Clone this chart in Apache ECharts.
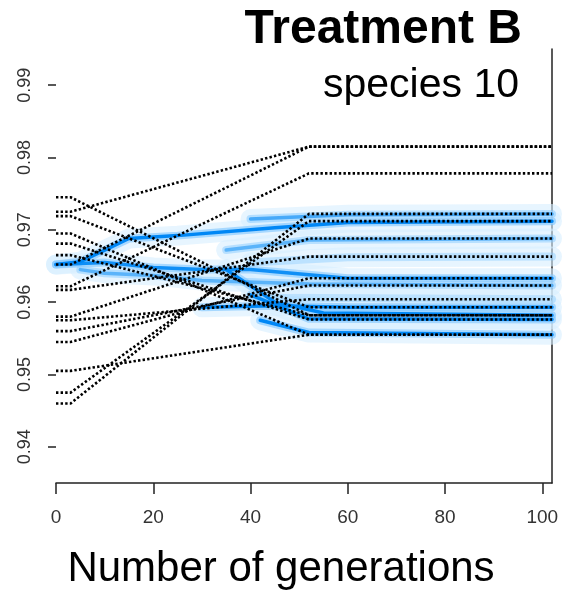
<!DOCTYPE html>
<html><head><meta charset="utf-8">
<script src="https://cdn.jsdelivr.net/npm/echarts@6/dist/echarts.min.js"></script>
<style>html,body{margin:0;padding:0;background:#fff}#c{width:562px;height:590px}</style>
</head><body><div id="c"></div>
<script>
// ---- data ----
const xTicks = [0, 20, 40, 60, 80, 100];
const yTicks = [0.94, 0.95, 0.96, 0.97, 0.98, 0.99];
// dotted trajectories: start value (gen 0-3) and final value (gen 52-102)
const trajStart = [0.9745, 0.9725, 0.9719, 0.9695, 0.9681, 0.9665, 0.9652, 0.9622, 0.9617, 0.9580, 0.9575, 0.9560, 0.9545, 0.9505, 0.9475, 0.9460];
const trajEnd   = [0.9582, 0.9815, 0.9593, 0.9555, 0.9576, 0.9582, 0.9815, 0.9778, 0.9663, 0.9688, 0.9604, 0.9623, 0.9633, 0.9555, 0.9712, 0.9722];
const trajGens  = [0, 3, 52, 102];
// blue density ridges [generation, value]
const ridgeUpper  = [[0,0.9652],[5,0.9656],[10,0.9672],[15,0.9688],[25,0.9692],[45,0.9703],[60,0.9710],[102,0.9712]];
const ridgeMiddle = [[0,0.9652],[10,0.9655],[20,0.9648],[30,0.9645],[40,0.9645],[52,0.9638],[60,0.9633],[102,0.9633]];
const ridgeLower  = [[5,0.9645],[10,0.9640],[20,0.9637],[30,0.9630],[52,0.9625],[102,0.9623]];
const ridge959    = [[30,0.9593],[45,0.9595],[60,0.9593],[102,0.9593]];
const ridge958    = [[35,0.9645],[45,0.9600],[55,0.9585],[102,0.9582]];
const ridge9576   = [[40,0.9610],[52,0.9577],[102,0.9576]];
const ridge9555   = [[42,0.9575],[52,0.9558],[102,0.9555]];
const ridge9722   = [[40,0.9715],[60,0.9721],[102,0.9722]];
const ridge9688   = [[35,0.9672],[52,0.9686],[102,0.9688]];
const ridge9663   = [[40,0.9655],[60,0.9662],[102,0.9663]];
const ridge9604   = [[45,0.9606],[102,0.9604]];

const ridges = [ridgeUpper, ridgeMiddle, ridgeLower, ridge959, ridge958, ridge9576, ridge9555, ridge9722, ridge9688, ridge9663, ridge9604];
const ridgeStrength = [1, 0.9, 0.5, 1, 1, 1, 1, 0.6, 0.5, 0.35, 0.35];

const FONT = 'Liberation Sans, Arial, sans-serif';
const series = [];
ridges.forEach((r, i) => {
  series.push({type:'line', data:r, showSymbol:false, silent:true, z:1,
    lineStyle:{color:'rgba(215,238,255,0.6)', width:20, cap:'round', join:'round'}});
});
ridges.forEach((r, i) => {
  const k = ridgeStrength[i];
  series.push({type:'line', data:r, showSymbol:false, silent:true, z:2,
    lineStyle:{color:'rgba(130,200,255,' + (0.3 + 0.35 * k) + ')', width:8, cap:'round', join:'round'}});
});
ridges.forEach((r, i) => {
  const k = ridgeStrength[i];
  if (k < 0.5) return;
  series.push({type:'line', data:r, showSymbol:false, silent:true, z:3,
    lineStyle:{color:'rgba(0,135,245,' + k + ')', width:3.5, cap:'round', join:'round'}});
});
trajStart.forEach((s, i) => {
  const e = trajEnd[i];
  series.push({type:'line', showSymbol:false, silent:true, z:5,
    data:[[trajGens[0], s],[trajGens[1], s],[trajGens[2], e],[trajGens[3], e]],
    lineStyle:{color:'#000', width:2.6, type:[2.4,2.2]}});
});

const chart = echarts.init(document.getElementById('c'), null, {renderer:'canvas'});
chart.setOption({
  animation:false,
  backgroundColor:'#fff',
  title:[
    {text:'Treatment B', right:35, top:1, textStyle:{fontFamily:FONT, fontWeight:'bold', fontSize:48, color:'#000'}},
    {text:'species 10', right:38, top:60, textStyle:{fontFamily:FONT, fontWeight:'normal', fontSize:41, color:'#000'}},
    {text:'Number of generations', left:276, top:543, textAlign:'center', textStyle:{fontFamily:FONT, fontWeight:'normal', fontSize:42, color:'#000'}}
  ],
  grid:{left:56, right:10, top:49, bottom:107},
  xAxis:{type:'value', min:0, max:102,
    axisLine:{show:true, lineStyle:{color:'#222', width:1.5}},
    axisTick:{show:true, length:11, customValues:xTicks, lineStyle:{color:'#222', width:1.5}},
    axisLabel:{show:true, customValues:xTicks, margin:25, fontFamily:FONT, fontSize:19, color:'#333'},
    splitLine:{show:false}},
  yAxis:[
    {type:'value', min:0.935, max:0.995, offset:3,
      axisLine:{show:false},
      axisTick:{show:true, length:8, customValues:yTicks, lineStyle:{color:'#222', width:1.5}},
      axisLabel:{show:true, customValues:yTicks, rotate:90, margin:19, fontFamily:FONT, fontSize:18, color:'#333',
        formatter:v => v.toFixed(2)},
      splitLine:{show:false}},
    {type:'value', min:0.935, max:0.995, position:'right',
      axisLine:{show:true, lineStyle:{color:'#222', width:1.5}},
      axisTick:{show:false}, axisLabel:{show:false}, splitLine:{show:false}}
  ],
  series:series
});
</script></body></html>
